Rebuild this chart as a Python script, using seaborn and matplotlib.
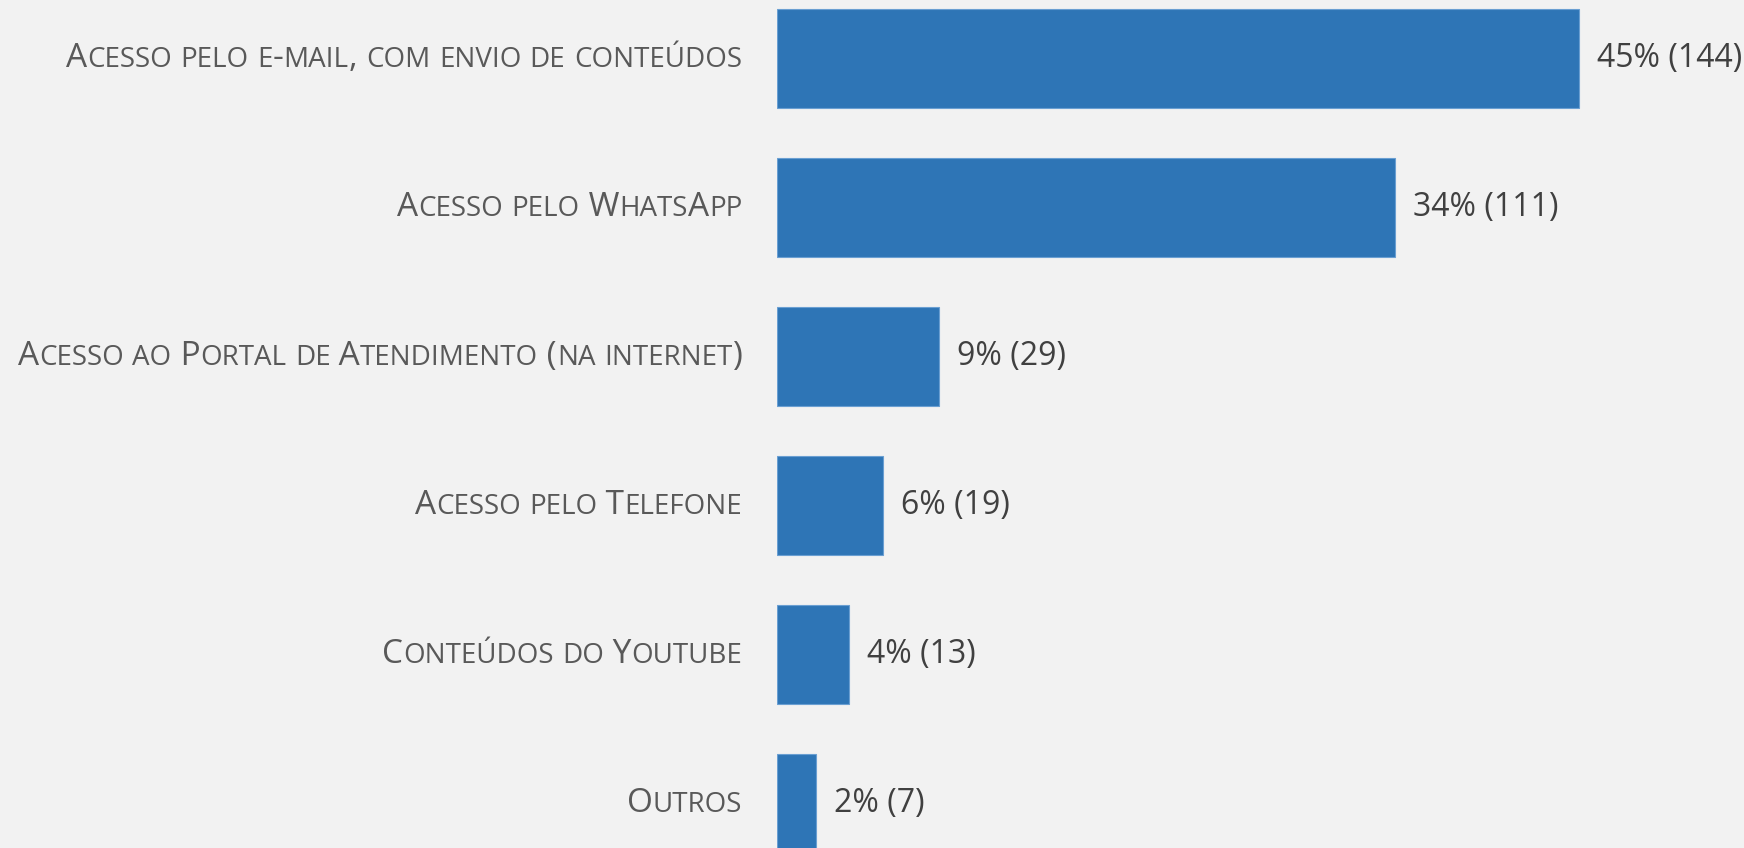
import matplotlib
matplotlib.use("Agg")
import matplotlib.pyplot as plt
import matplotlib.transforms as mtransforms
from matplotlib.offsetbox import TextArea, HPacker, AnnotationBbox
import pandas as pd
import seaborn as sns

categories = [
    "Acesso pelo e-mail, com envio de conteúdos",
    "Acesso pelo WhatsApp",
    "Acesso ao Portal de Atendimento (na internet)",
    "Acesso pelo Telefone",
    "Conteúdos do Youtube",
    "Outros",
]
counts = [144, 111, 29, 19, 13, 7]
percents = [45, 34, 9, 6, 4, 2]

BG = "#F2F2F2"
BAR = "#2E75B6"
FONT = ["Open Sans", "DejaVu Sans"]


def small_caps(text, big=24, small=20, color="#595959"):
    # lower-case letters become capitals in the smaller size
    runs = []
    for ch in text:
        size = small if ch.islower() else big
        if runs and runs[-1][1] == size:
            runs[-1][0] += ch.upper()
        else:
            runs.append([ch.upper(), size])
    parts = [TextArea(t, textprops=dict(fontsize=s, color=color, family=FONT))
             for t, s in runs]
    return HPacker(children=parts, align="baseline", pad=0, sep=0)


df = pd.DataFrame({"categoria": categories, "total": counts})

sns.set_theme(style="white")
plt.rcParams["font.family"] = FONT

fig = plt.figure(figsize=(17.44, 8.48), dpi=100, facecolor=BG)
ax = fig.add_axes([777 / 1744, 0, 967 / 1744, 1])
ax.set_facecolor(BG)

sns.barplot(data=df, x="total", y="categoria", orient="h", color=BAR,
            saturation=1, width=0.665, edgecolor="#6a9fd2", linewidth=0.8, ax=ax)

ax.set_xlim(0, 173.6)
ax.set_ylim(5.299, -0.393)
ax.set_xticks([])
ax.set_yticks([])
ax.set_xlabel("")
ax.set_ylabel("")
sns.despine(ax=ax, left=True, bottom=True)

labels = [f"{p}% ({n})" for p, n in zip(percents, counts)]
ax.bar_label(ax.containers[0], labels=labels, padding=13, fontsize=23,
             color="#404040", family=FONT)

trans = mtransforms.blended_transform_factory(fig.transFigure, ax.transData)
for i, cat in enumerate(categories):
    ab = AnnotationBbox(small_caps(cat), (742 / 1744, i), xycoords=trans,
                        box_alignment=(1, 0.5), frameon=False,
                        annotation_clip=False, pad=0)
    ax.add_artist(ab)

fig.savefig("out.png", dpi=100, facecolor=BG)
